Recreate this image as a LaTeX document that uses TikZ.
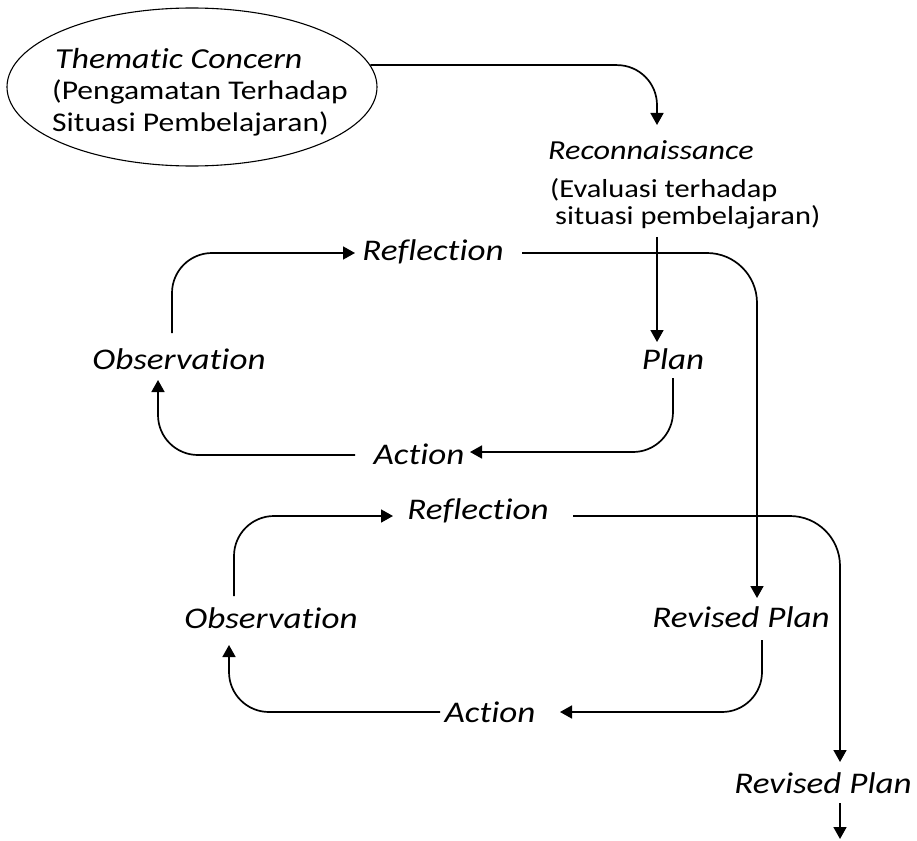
\documentclass[tikz,border=0pt]{standalone}
\usepackage{fontspec}
\setmainfont{Carlito}[FakeStretch=1.17, Ligatures=NoCommon]
\usetikzlibrary{arrows.meta,calc,shapes.geometric}
\begin{document}
\begin{tikzpicture}[x=1pt,y=-1pt,
  lbl/.style={font=\fontsize{30}{32}\selectfont\itshape, inner sep=0pt, text height=20pt, text depth=6pt},
  arr/.style={line width=1.7pt, rounded corners=40pt, -{Triangle[length=12pt,width=13pt]}}]
\useasboundingbox (0,0) rectangle (917,840);
\node[ellipse, draw, line width=1.1pt, minimum width=370pt, minimum height=158pt, inner sep=0pt] (tc) at (192,87) {};
\node[align=left, font=\fontsize{27}{31.5}\selectfont, inner sep=0pt, anchor=west] (tctext) at (52,92) {{\fontsize{29}{31.5}\selectfont\itshape\hspace*{3pt}Thematic Concern}\\(Pengamatan Terhadap\\Situasi Pembelajaran)};
\node[lbl, font=\fontsize{27.5}{32}\selectfont\itshape] (recon) at (651,152) {Reconnaissance};
\node[align=left, font=\fontsize{26}{27}\selectfont, anchor=north west, inner sep=0pt] (eval) at (550,178) {(Evaluasi terhadap\\\hspace*{5pt}situasi pembelajaran)};
\node[lbl] (refl1) at (433,253) {Reflection};
\node[lbl] (obs1) at (179,362) {Observation};
\node[lbl] (plan1) at (673,362) {Plan};
\node[lbl] (act1) at (419,457) {Action};
\node[lbl] (refl2) at (478,512) {Reflection};
\node[lbl] (obs2) at (271,621) {Observation};
\node[lbl] (rp2) at (741,620) {Revised Plan};
\node[lbl] (act2) at (490,715) {Action};
\node[lbl] (rp3) at (823,786) {Revised Plan};
% connectors
\draw[arr] (tc.7) -| ($(recon)+(6,-27)$);
\coordinate (p1in) at ($(plan1)+(-16,-20)$);
\coordinate (e1) at ($(eval.south)+(0,8)$);
\draw[arr] (e1 -| p1in) -- (p1in);
\draw[arr, rounded corners=50pt] ($(refl1)+(89,0)$) -| ($(rp2)+(16,-22)$);
\draw[arr] ($(obs1)+(-7,-29)$) |- ($(refl1)+(-78,0)$);
\draw[arr] ($(plan1)+(0,16)$) |- ($(act1)+(51,-5)$);
\draw[arr] ($(act1)+(-64,-2)$) -| ($(obs1)+(-21,18)$);
\draw[arr] ($(obs2)+(-37,-25)$) |- ($(refl2)+(-85,4)$);
\draw[arr, rounded corners=50pt] ($(refl2)+(95,4)$) -| ($(rp3)+(17,-24)$);
\draw[arr] ($(rp2)+(21,20)$) |- ($(act2)+(70,-3)$);
\draw[arr] ($(act2)+(-50,-3)$) -| ($(obs2)+(-42,24)$);
\coordinate (rp3out) at ($(rp3)+(17,53)$);
\draw[arr] ($(rp3)+(17,17)$) -- (rp3out);
\end{tikzpicture}
\end{document}
